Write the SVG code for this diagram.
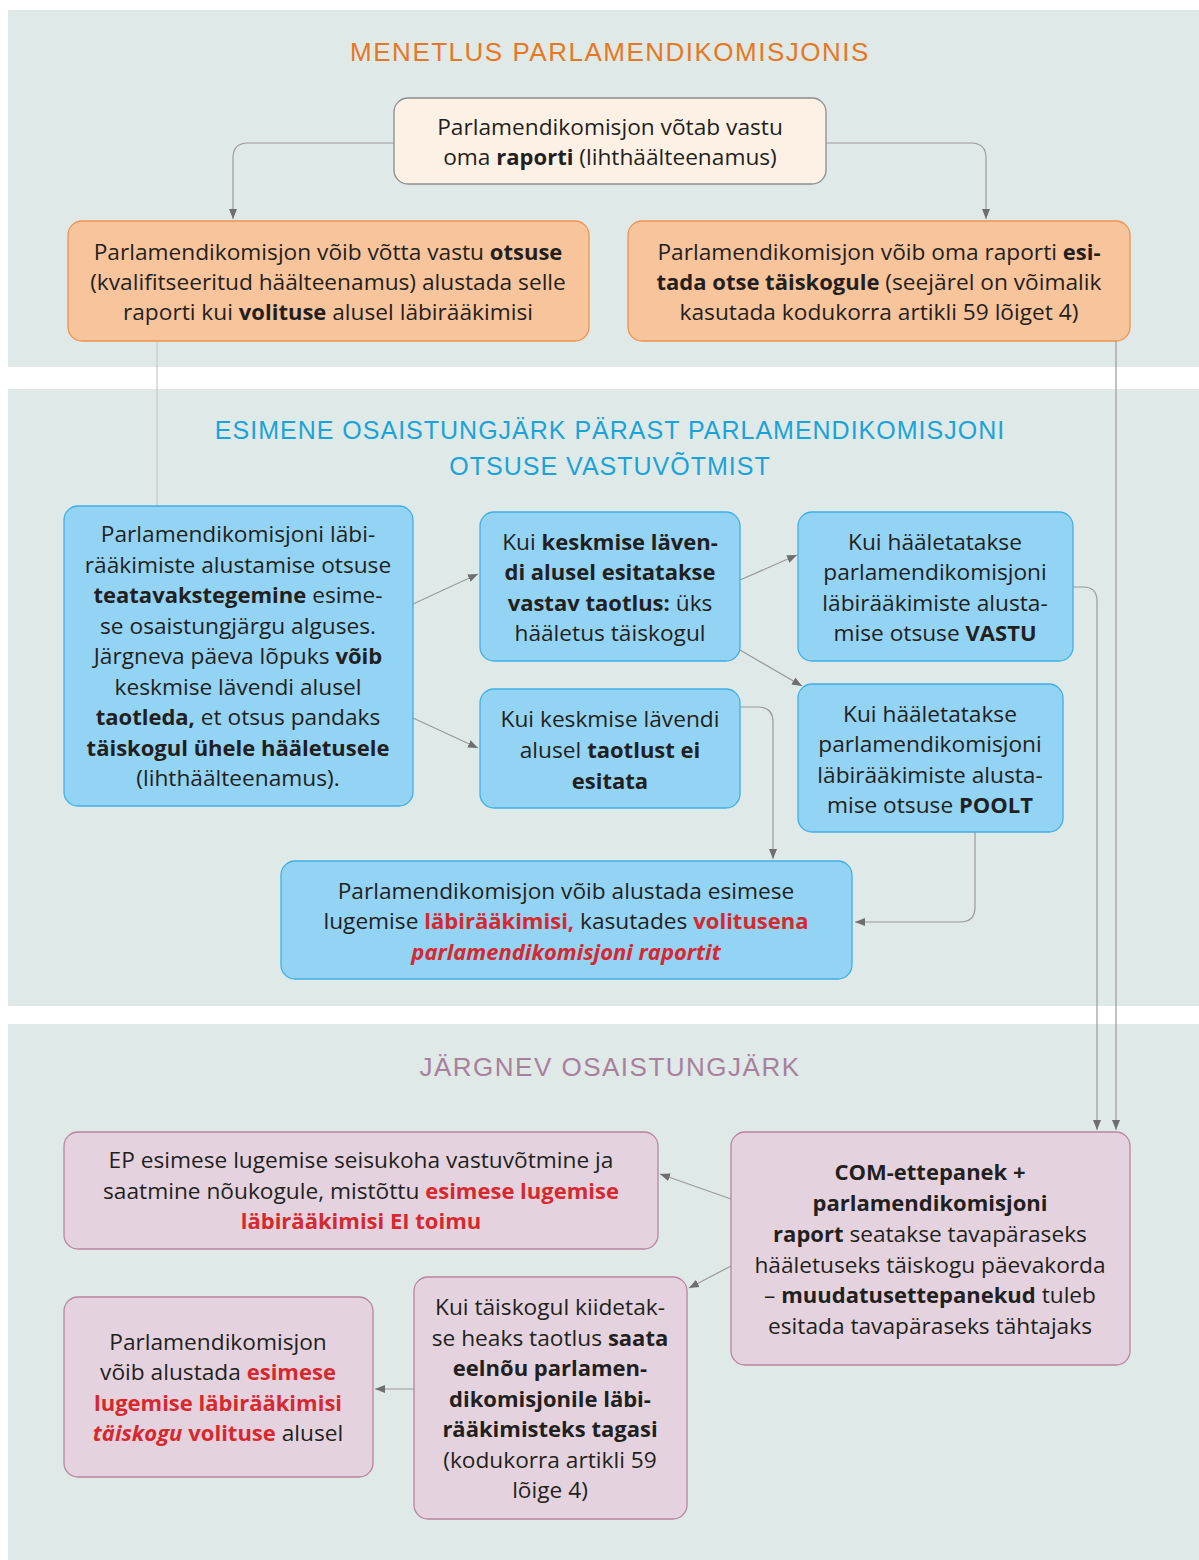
<svg xmlns="http://www.w3.org/2000/svg" width="1199" height="1560" viewBox="0 0 1199 1560">
<defs>
<style>
text{font-family:"Open Sans","Liberation Sans",Arial,sans-serif;font-size:22.7px;fill:#231f20;text-anchor:middle}
.b{font-weight:bold;font-size:22px}
.r{fill:#d7282f;font-weight:bold;font-size:22px}
.ri{fill:#d7282f;font-weight:bold;font-style:italic;font-size:22px}
.title{font-family:"Liberation Sans",Arial,sans-serif;font-size:26px;letter-spacing:1.5px;font-weight:normal}
.conn{fill:none;stroke:#9a9a9a;stroke-width:1.2}
.lt{fill:none;stroke:#c8cccc;stroke-width:1.2}
.org{fill:#f8c49c;stroke:#ec9453;stroke-width:1.3}
.top{fill:#fdf1e5;stroke:#8c8c8c;stroke-width:1.3}
.blu{fill:#93d3f3;stroke:#3fb0e6;stroke-width:1.3}
.pnk{fill:#e4d3de;stroke:#b9849f;stroke-width:1.3}
</style>
<marker id="ah" viewBox="0 0 10 10" refX="10" refY="5" markerWidth="10" markerHeight="10" markerUnits="userSpaceOnUse" orient="auto">
<path d="M0,1 L10,5 L0,9 z" fill="#6d6e70"/>
</marker>
</defs>
<rect width="1199" height="1560" fill="#ffffff"/>
<g id="panels">
<rect x="8" y="10" width="1191" height="357" fill="#dfe9e7"/>
<rect x="8" y="389" width="1191" height="617" fill="#dfe9e7"/>
<rect x="8" y="1024" width="1191" height="536" fill="#dfe9e7"/>
</g>
<g id="titles">
<text class="title" x="610" y="61" style="fill:#e87722">MENETLUS PARLAMENDIKOMISJONIS</text>
<text class="title" x="610" y="439" style="fill:#1aa3d9;font-size:25px;letter-spacing:1px">ESIMENE OSAISTUNGJÄRK PÄRAST PARLAMENDIKOMISJONI</text>
<text class="title" x="610" y="475" style="fill:#1aa3d9;font-size:25px;letter-spacing:1px">OTSUSE VASTUVÕTMIST</text>
<text class="title" x="610" y="1076" style="fill:#a9809c">JÄRGNEV OSAISTUNGJÄRK</text>
</g>
<g id="connectors">
<path class="conn" d="M394,143 H248 Q233,143 233,158 V219" marker-end="url(#ah)"/>
<path class="conn" d="M826,143 H971 Q986,143 986,158 V219" marker-end="url(#ah)"/>
<path class="lt" d="M157,341 V505"/>
<path class="conn" d="M1116,341 V1130" marker-end="url(#ah)"/>
<path class="conn" d="M413,604 L478,574" marker-end="url(#ah)"/>
<path class="conn" d="M413,718 L478,748" marker-end="url(#ah)"/>
<path class="conn" d="M740,580 L797,555" marker-end="url(#ah)"/>
<path class="conn" d="M740,650 L802,686" marker-end="url(#ah)"/>
<path class="conn" d="M740,707 H758 Q773,707 773,722 V859" marker-end="url(#ah)"/>
<path class="conn" d="M975,832 V907 Q975,922 960,922 H855" marker-end="url(#ah)"/>
<path class="conn" d="M1073,587 H1083 Q1097,587 1097,601 V1130" marker-end="url(#ah)"/>
<path class="conn" d="M731,1199 L660,1174" marker-end="url(#ah)"/>
<path class="conn" d="M731,1266 L689,1288" marker-end="url(#ah)"/>
<path class="conn" d="M414,1389 L375,1389" marker-end="url(#ah)"/>
</g>
<g id="n-top">
<rect class="top" x="394" y="98" width="432" height="86" rx="14"/>
<text x="610" y="135">Parlamendikomisjon võtab vastu</text>
<text x="610" y="165">oma <tspan class="b">raporti</tspan> (lihthäälteenamus)</text>
</g>
<g id="n-org-left">
<rect class="org" x="68" y="221" width="521" height="120" rx="14"/>
<text x="328" y="260">Parlamendikomisjon võib võtta vastu <tspan class="b">otsuse</tspan></text>
<text x="328" y="290">(kvalifitseeritud häälteenamus) alustada selle</text>
<text x="328" y="320">raporti kui <tspan class="b">volituse</tspan> alusel läbirääkimisi</text>
</g>
<g id="n-org-right">
<rect class="org" x="628" y="221" width="502" height="120" rx="14"/>
<text x="879" y="260">Parlamendikomisjon võib oma raporti <tspan class="b">esi-</tspan></text>
<text x="879" y="290"><tspan class="b">tada otse täiskogule</tspan> (seejärel on võimalik</text>
<text x="879" y="320">kasutada kodukorra artikli 59 lõiget 4)</text>
</g>
<g id="n-blue1">
<rect class="blu" x="64" y="506" width="349" height="300" rx="14"/>
<text x="238" y="542">Parlamendikomisjoni läbi-</text>
<text x="238" y="573">rääkimiste alustamise otsuse</text>
<text x="238" y="603"><tspan class="b">teatavakstegemine</tspan> esime-</text>
<text x="238" y="634">se osaistungjärgu alguses.</text>
<text x="238" y="664">Järgneva päeva lõpuks <tspan class="b">võib</tspan></text>
<text x="238" y="695">keskmise lävendi alusel</text>
<text x="238" y="725"><tspan class="b">taotleda,</tspan> et otsus pandaks</text>
<text x="238" y="756"><tspan class="b">täiskogul ühele hääletusele</tspan></text>
<text x="238" y="786">(lihthäälteenamus).</text>
</g>
<g id="n-blue2">
<rect class="blu" x="480" y="512" width="260" height="149" rx="14"/>
<text x="610" y="550">Kui <tspan class="b">keskmise läven-</tspan></text>
<text x="610" y="580"><tspan class="b">di alusel esitatakse</tspan></text>
<text x="610" y="611"><tspan class="b">vastav taotlus:</tspan> üks</text>
<text x="610" y="641">hääletus täiskogul</text>
</g>
<g id="n-blue3">
<rect class="blu" x="480" y="689" width="260" height="119" rx="14"/>
<text x="610" y="727">Kui keskmise lävendi</text>
<text x="610" y="758">alusel <tspan class="b">taotlust ei</tspan></text>
<text x="610" y="789"><tspan class="b">esitata</tspan></text>
</g>
<g id="n-blue4">
<rect class="blu" x="798" y="512" width="275" height="149" rx="14"/>
<text x="935" y="550">Kui hääletatakse</text>
<text x="935" y="580">parlamendikomisjoni</text>
<text x="935" y="611">läbirääkimiste alusta-</text>
<text x="935" y="641">mise otsuse <tspan class="b">VASTU</tspan></text>
</g>
<g id="n-blue5">
<rect class="blu" x="798" y="684" width="265" height="148" rx="14"/>
<text x="930" y="722">Kui hääletatakse</text>
<text x="930" y="752">parlamendikomisjoni</text>
<text x="930" y="783">läbirääkimiste alusta-</text>
<text x="930" y="813">mise otsuse <tspan class="b">POOLT</tspan></text>
</g>
<g id="n-blue6">
<rect class="blu" x="281" y="861" width="571" height="118" rx="14"/>
<text x="566" y="899">Parlamendikomisjon võib alustada esimese</text>
<text x="566" y="929">lugemise <tspan class="r">läbirääkimisi,</tspan> kasutades <tspan class="r">volitusena</tspan></text>
<text x="566" y="960"><tspan class="ri">parlamendikomisjoni raportit</tspan></text>
</g>
<g id="n-com">
<rect class="pnk" x="731" y="1132" width="399" height="233" rx="14"/>
<text x="930" y="1180"><tspan class="b">COM-ettepanek +</tspan></text>
<text x="930" y="1211"><tspan class="b">parlamendikomisjoni</tspan></text>
<text x="930" y="1242"><tspan class="b">raport</tspan> seatakse tavapäraseks</text>
<text x="930" y="1273">hääletuseks täiskogu päevakorda</text>
<text x="930" y="1303">– <tspan class="b">muudatusettepanekud</tspan> tuleb</text>
<text x="930" y="1334">esitada tavapäraseks tähtajaks</text>
</g>
<g id="n-ep">
<rect class="pnk" x="64" y="1132" width="594" height="117" rx="14"/>
<text x="361" y="1168">EP esimese lugemise seisukoha vastuvõtmine ja</text>
<text x="361" y="1199">saatmine nõukogule, mistõttu <tspan class="r">esimese lugemise</tspan></text>
<text x="361" y="1229"><tspan class="r">läbirääkimisi EI toimu</tspan></text>
</g>
<g id="n-kui">
<rect class="pnk" x="414" y="1277" width="273" height="242" rx="14"/>
<text x="550" y="1315">Kui täiskogul kiidetak-</text>
<text x="550" y="1346">se heaks taotlus <tspan class="b">saata</tspan></text>
<text x="550" y="1376"><tspan class="b">eelnõu parlamen-</tspan></text>
<text x="550" y="1407"><tspan class="b">dikomisjonile läbi-</tspan></text>
<text x="550" y="1437"><tspan class="b">rääkimisteks tagasi</tspan></text>
<text x="550" y="1468">(kodukorra artikli 59</text>
<text x="550" y="1498">lõige 4)</text>
</g>
<g id="n-parl">
<rect class="pnk" x="64" y="1297" width="309" height="180" rx="14"/>
<text x="218" y="1350">Parlamendikomisjon</text>
<text x="218" y="1380">võib alustada <tspan class="r">esimese</tspan></text>
<text x="218" y="1411"><tspan class="r">lugemise läbirääkimisi</tspan></text>
<text x="218" y="1441"><tspan class="ri">täiskogu</tspan> <tspan class="r">volituse</tspan> alusel</text>
</g>
</svg>
